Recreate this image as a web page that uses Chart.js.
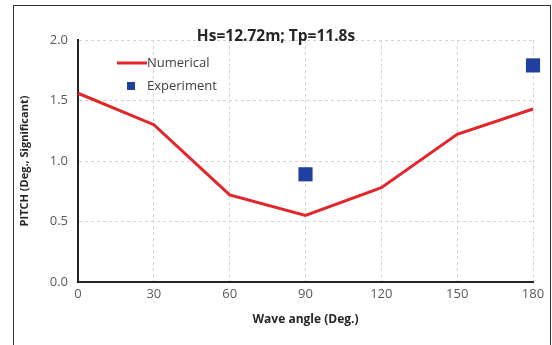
<!DOCTYPE html>
<html>
<head>
<meta charset="utf-8">
<script src="https://cdn.jsdelivr.net/npm/chart.js@4"></script>
<style>
  html, body { margin: 0; padding: 0; background: #fff; }
  #wrap { position: relative; width: 552px; height: 345px; overflow: hidden; }
  #frame { position: absolute; left: 13px; top: 5px; width: 536px; height: 400px; border: 1px solid #333; }
  canvas { position: absolute; left: 0; top: 0; }
</style>
</head>
<body>
<div id="wrap">
  <div id="frame"></div>
  <canvas id="pitch" width="552" height="345"></canvas>
</div>
<script>
const ctxPitch = document.getElementById('pitch');

const titulo = 'Hs=12.72m; Tp=11.8s';
const angulos = [0, 30, 60, 90, 120, 150, 180];
const numerico = [1.56, 1.30, 0.72, 0.55, 0.78, 1.22, 1.43];
const angulosExp = [90, 180];
const experimento = [0.89, 1.79];

const fuente = '"Open Sans", sans-serif';

// titulo y leyenda dibujados dentro del area del grafico
const extras = {
  id: 'extras',
  afterDraw(chart) {
    const c = chart.ctx;
    c.save();
    c.fillStyle = '#262626';
    c.font = 'bold 15.5px ' + fuente;
    c.textAlign = 'center';
    c.textBaseline = 'middle';
    c.fillText(titulo, 276, 37);

    const ds = chart.data.datasets;
    c.font = '13px ' + fuente;
    c.textAlign = 'left';
    c.fillStyle = '#404040';
    // linea
    c.strokeStyle = ds[0].borderColor;
    c.lineWidth = 3;
    c.beginPath();
    c.moveTo(117, 63);
    c.lineTo(147, 63);
    c.stroke();
    c.fillText(ds[0].label, 147, 63);
    // cuadrado
    c.fillStyle = ds[1].backgroundColor;
    c.fillRect(127, 82, 8, 8);
    c.fillStyle = '#404040';
    c.fillText(ds[1].label, 147, 86);
    c.restore();
  }
};

const graficoPitch = new Chart(ctxPitch, {
  type: 'scatter',
  data: {
    datasets: [{
      label: 'Numerical',
      data: angulos.map((x, i) => ({ x: x, y: numerico[i] })),
      showLine: true,
      borderColor: '#e3262a',
      backgroundColor: '#e3262a',
      borderWidth: 3,
      pointRadius: 0,
      clip: false,
      order: 2
    }, {
      label: 'Experiment',
      data: angulosExp.map((x, i) => ({ x: x, y: experimento[i] })),
      showLine: false,
      pointStyle: 'rect',
      pointRadius: 10,
      backgroundColor: '#2040a0',
      borderColor: '#2040a0',
      borderWidth: 0,
      clip: false,
      order: 1
    }]
  },
  options: {
    responsive: false,
    animation: false,
    layout: { padding: { left: 18, right: 19, top: 40, bottom: 0 } },
    plugins: {
      legend: { display: false },
      title: { display: false },
      tooltip: { enabled: false }
    },
    scales: {
      x: {
        type: 'linear',
        min: 0,
        max: 180,
        ticks: { stepSize: 30, color: '#595959', font: { family: fuente, size: 13 }, padding: 4 },
        grid: { color: '#d4d4d4', drawTicks: false },
        border: { color: '#222', width: 2, dash: [3, 3] },
        title: { display: true, text: 'Wave angle (Deg.)', color: '#262626', font: { family: fuente, size: 12, weight: 'bold' }, padding: { top: 0, bottom: 18 } },
        afterFit(s) { s.height = 63; }
      },
      y: {
        min: 0,
        max: 2,
        ticks: { stepSize: 0.5, color: '#595959', font: { family: fuente, size: 13 }, padding: 10, callback: v => v.toFixed(1) },
        grid: { color: '#d4d4d4', drawTicks: false },
        border: { color: '#222', width: 2, dash: [3, 3] },
        title: { display: true, text: 'PITCH (Deg., Significant)', color: '#262626', font: { family: fuente, size: 11, weight: 'bold' }, padding: 0 },
        afterFit(s) { s.width = 60; }
      }
    }
  },
  plugins: [extras]
});
</script>
</body>
</html>
